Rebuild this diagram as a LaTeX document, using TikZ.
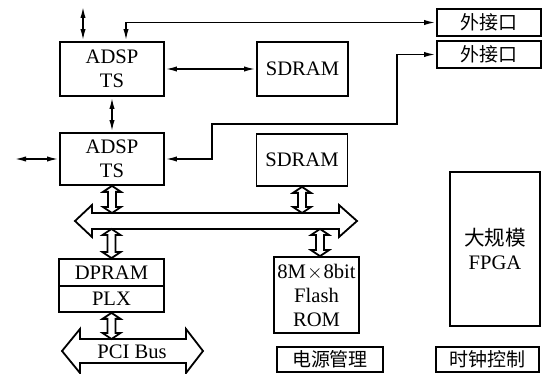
\documentclass[tikz,border=0pt]{standalone}
\usepackage{fontspec}
\setmainfont{Liberation Serif}
\newfontfamily\cjk{Noto Sans CJK SC}
\usetikzlibrary{arrows.meta,calc}

% hollow double arrow between a top point and a bottom point
\newcommand\hollow[2]{%
  \draw[line width=0.9pt, fill=white] let \p1=#1, \p2=#2 in
    (\x1,\y1) -- (\x1+4.5pt,\y1-3pt) -- (\x1+2pt,\y1-3pt) -- (\x1+2pt,\y2+3pt)
    -- (\x1+4.5pt,\y2+3pt) -- (\x1,\y2) -- (\x1-4.5pt,\y2+3pt) -- (\x1-2pt,\y2+3pt)
    -- (\x1-2pt,\y1-3pt) -- (\x1-4.5pt,\y1-3pt) -- cycle;}

\begin{document}
\begin{tikzpicture}[x=0.5pt, y=-0.5pt, line width=0.9pt,
    >={Latex[length=6pt,width=2.6pt]},
    font=\fontsize{10.3}{12}\selectfont]
\useasboundingbox (0,0) rectangle (542,374);
            {
                \tikzset{every node/.style = {shape=rectangle, draw, inner sep=0pt, align=center}}

                \node[minimum width=52pt, minimum height=27pt] (adsp1) at (112, 69) {ADSP\\TS};
                \node[minimum width=52pt, minimum height=26pt] (adsp2) at (112, 159) {ADSP\\TS};
                \node[minimum width=45.5pt, minimum height=27pt] (sdram1) at (302.5, 69) {SDRAM};
                \node[minimum width=45.5pt, minimum height=26pt] (sdram2) at (302, 160) {SDRAM};
                \node[minimum width=52pt, minimum height=13.5pt, font=\cjk\fontsize{9.5}{11}\selectfont] (ext1) at (489, 22.5) {外接口};
                \node[minimum width=52pt, minimum height=13.5pt, font=\cjk\fontsize{9.5}{11}\selectfont] (ext2) at (489, 54.5) {外接口};
                \node[minimum width=45pt, minimum height=77pt] (fpga) at (495, 249) {{\cjk 大规模}\\FPGA};
                \node[minimum width=42.5pt, minimum height=38pt] (flash) at (316.5, 295) {8M\kern0.5pt$\times$\kern0.5pt8bit\\Flash\\ROM};
                \node[minimum width=52.5pt, minimum height=13.5pt] (dpram) at (111.5, 272.5) {DPRAM};
                \node[minimum width=52.5pt, minimum height=13pt] (plx) at (111.5, 299) {PLX};
                \node[minimum width=53pt, minimum height=12.5pt, font=\cjk\fontsize{9.5}{11}\selectfont] (power) at (330, 359.5) {电源管理};
                \node[minimum width=51.5pt, minimum height=12.5pt, font=\cjk\fontsize{9.5}{11}\selectfont] (clock) at (487.5, 359.5) {时钟控制};
            }

            % internal bus and PCI bus
            \draw (75,221) -- (92,205) -- (92,213) -- (339,213) -- (339,205) -- (357,221)
                -- (339,237) -- (339,229) -- (92,229) -- (92,237) -- cycle;
            \draw (62,351) -- (80,329) -- (80,339) -- (186,339) -- (186,329) -- (203,351)
                -- (186,373) -- (186,363) -- (80,363) -- (80,373) -- cycle;
            \node (pci) at (132, 352) {PCI Bus};
            \coordinate (bustop) at (0, 213);
            \coordinate (busbot) at (0, 229);
            \coordinate (pcitop) at (0, 339);
            \coordinate (topfree) at (83, 6);
            \coordinate (leftfree) at (14, 159);

            \draw (topfree) edge[<->] (topfree |- adsp1.north);
            \draw (leftfree) edge[<->] (adsp2.west);
            \draw (adsp1) edge[<->] (sdram1);
            \draw (adsp1) edge[<->] (adsp2);
            \draw[<->] (ext1.west) -| ([xshift=7pt]adsp1.north);
            \draw[<->] (ext2.west) -| (397, 124) -| (212, 159) -- (adsp2.east);

            \hollow{(adsp2.south)}{(adsp2.south |- bustop)}
            \hollow{(sdram2.south)}{(sdram2.south |- bustop)}
            \hollow{(dpram.north |- busbot)}{(dpram.north)}
            \hollow{([xshift=1.75pt]flash.north |- busbot)}{([xshift=1.75pt]flash.north)}
            \hollow{(plx.south)}{(plx.south |- pcitop)}

        \end{tikzpicture}
\end{document}
